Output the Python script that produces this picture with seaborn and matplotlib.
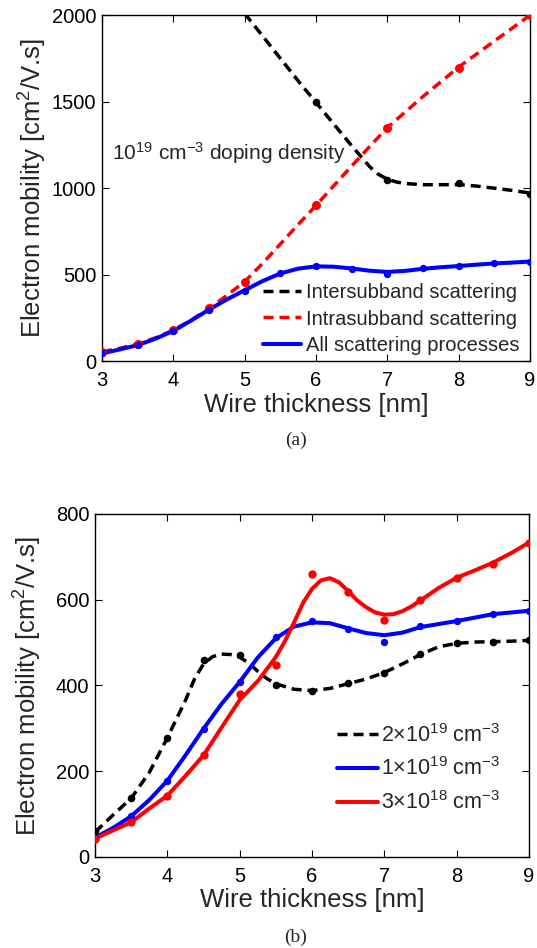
# %%
import pandas as pd
import seaborn as sns
from matplotlib import pyplot as plt

# %%
# values

# thickness (nm) of the simulated points, every 0.5 nm
thick_pts = [3.0, 3.5, 4.0, 4.5, 5.0, 5.5, 6.0, 6.5, 7.0, 7.5, 8.0, 8.5, 9.0]
# thickness grid on which the fitted curves were read, every 0.25 nm
thick_fit = [3.0, 3.25, 3.5, 3.75, 4.0, 4.25, 4.5, 4.75, 5.0, 5.25, 5.5, 5.75,
             6.0, 6.25, 6.5, 6.75, 7.0, 7.25, 7.5, 7.75, 8.0, 8.25, 8.5, 8.75, 9.0]

# (a) 1e19 cm-3 doping, scattering mechanisms
inter_pts_x = [6.0, 7.0, 8.0, 9.0]
inter_pts = [1500, 1050, 1030, 968]
inter_fit_x = [5.0, 5.25, 5.5, 5.75, 6.0, 6.25, 6.5, 6.75, 6.875, 7.0, 7.125,
               7.25, 7.5, 7.75, 8.0, 8.25, 8.5, 8.75, 9.0]
inter_fit = [2010, 1880, 1750, 1620, 1495, 1370, 1245, 1125, 1080, 1052, 1036,
             1027, 1020, 1020, 1021, 1012, 1000, 987, 972]

intra_pts_x = [3.0, 3.5, 4.0, 4.5, 5.0, 6.0, 7.0, 8.0, 9.0]
intra_pts = [55, 100, 180, 305, 460, 900, 1347, 1697, 2000]
intra_fit = [55, 75, 100, 135, 180, 237, 305, 380, 460, 565, 677, 790,
             900, 1015, 1128, 1240, 1350, 1440, 1530, 1615, 1700, 1775, 1850, 1925, 2000]

all_pts = [45, 93, 175, 298, 408, 510, 549, 533, 502, 537, 549, 566, 576]
all_fit = [45, 68, 93, 130, 175, 235, 298, 357, 410, 463, 507, 535,
           548, 546, 536, 523, 516, 522, 534, 543, 550, 558, 565, 570, 576]

# (b) total mobility for three doping densities
d2e19_pts = [60, 137, 278, 459, 470, 401, 387, 406, 428, 474, 499, 502, 505]
d2e19_fit_x = [3.0, 3.25, 3.5, 3.75, 4.0, 4.25, 4.375, 4.5, 4.625, 4.75, 4.875,
               5.0, 5.125, 5.25, 5.375, 5.5, 5.75, 6.0, 6.25, 6.5, 6.75, 7.0,
               7.25, 7.5, 7.75, 8.0, 8.25, 8.5, 8.75, 9.0]
d2e19_fit = [58, 98, 137, 197, 278, 365, 415, 450, 467, 473, 472,
             466, 452, 433, 416, 404, 391, 388, 393, 404, 415, 430,
             450, 472, 490, 498, 501, 502, 503, 505]

d1e19_pts = [45, 95, 178, 299, 408, 513, 551, 532, 501, 538, 550, 566, 574]
d1e19_fit = [45, 68, 95, 133, 178, 237, 299, 357, 408, 465, 510, 537,
             547, 545, 533, 522, 517, 523, 536, 543, 550, 558, 566, 570, 574]

d3e18_pts = [43, 81, 143, 237, 379, 447, 660, 617, 552, 598, 651, 684, 733]
d3e18_fit_x = [3.0, 3.25, 3.5, 3.75, 4.0, 4.25, 4.5, 4.75, 5.0, 5.25, 5.5,
               5.625, 5.75, 5.875, 6.0, 6.125, 6.25, 6.375, 6.5, 6.625, 6.75,
               6.875, 7.0, 7.125, 7.25, 7.375, 7.5, 7.75, 8.0, 8.25, 8.5, 8.75, 9.0]
d3e18_fit = [43, 62, 81, 113, 143, 189, 237, 302, 366, 410, 466,
             503, 546, 592, 625, 645, 650, 640, 620, 598, 582,
             570, 565, 566, 573, 584, 598, 627, 651, 668, 686, 708, 733]

# %%
sns.set_style("ticks")
plt.rcParams["font.family"] = ["Liberation Sans", "DejaVu Sans"]
plt.rcParams["mathtext.fontset"] = "custom"
plt.rcParams["mathtext.rm"] = "Liberation Sans"
plt.rcParams["mathtext.it"] = "Liberation Sans:italic"
plt.rcParams["mathtext.default"] = "regular"

fig = plt.figure(figsize=(5.37, 9.48), dpi=100)
ax1 = fig.add_axes([0.190, 0.619, 0.797, 0.365])
ax2 = fig.add_axes([0.177, 0.096, 0.808, 0.362])

DASH = (0, (2.9, 1.7))


def draw(ax, fx, fy, px, py, color, label, dashed=False, lw=2.9, s=28):
    sns.lineplot(x=fx, y=fy, ax=ax, color=color, lw=lw, label=label,
                 linestyle=DASH if dashed else "-")
    sns.scatterplot(x=px, y=py, ax=ax, color=color, s=s, linewidth=0,
                    legend=False, zorder=3)


def style(ax, ymax, yticks, ylab_x):
    ax.set_xlim(3, 9)
    ax.set_ylim(0, ymax)
    ax.set_xticks(range(3, 10))
    ax.set_yticks(yticks)
    ax.tick_params(direction="in", top=True, right=True, length=5, width=0.8,
                   labelsize=14.5, colors="black")
    ax.tick_params(axis="x", pad=7)
    ax.tick_params(axis="y", pad=4)
    for sp in ax.spines.values():
        sp.set_visible(True)
        sp.set_color("black")
        sp.set_linewidth(1.0)
    ax.set_xlabel("Wire thickness [nm]", fontsize=18.5, labelpad=2)
    ax.set_ylabel("Electron mobility [cm$^2$/V.s]", fontsize=18.5)
    ax.yaxis.set_label_coords(ylab_x, 0.5)


# %%
# panel (a)
draw(ax1, inter_fit_x, inter_fit, inter_pts_x, inter_pts, "black",
     "Intersubband scattering", dashed=True, lw=2.5, s=30)
draw(ax1, thick_fit, intra_fit, intra_pts_x, intra_pts, "#ff0000",
     "Intrasubband scattering", dashed=True, lw=2.5, s=42)
draw(ax1, thick_fit, all_fit, thick_pts, all_pts, "#0000ff",
     "All scattering processes")
style(ax1, 2000, [0, 500, 1000, 1500, 2000], -0.123)
ax1.text(3.136, 1164, "10$^{19}$ cm$^{-3}$ doping density", fontsize=15,
         va="baseline", ha="left")
ax1.legend(loc="lower right", bbox_to_anchor=(0.975, 0.018), frameon=False,
           fontsize=14.5, handlelength=1.9, handletextpad=0.22,
           labelspacing=0.37, borderpad=0, borderaxespad=0)

# panel (b)
draw(ax2, d2e19_fit_x, d2e19_fit, thick_pts, d2e19_pts, "black",
     "2$\\times$10$^{19}$ cm$^{-3}$", dashed=True, lw=2.5, s=30)
draw(ax2, thick_fit, d1e19_fit, thick_pts, d1e19_pts, "#0000ff",
     "1$\\times$10$^{19}$ cm$^{-3}$")
draw(ax2, d3e18_fit_x, d3e18_fit, thick_pts, d3e18_pts, "#ff0000",
     "3$\\times$10$^{18}$ cm$^{-3}$", s=36)
style(ax2, 800, [0, 200, 400, 600, 800], -0.118)
ax2.legend(loc="lower right", bbox_to_anchor=(0.935, 0.125), frameon=False,
           fontsize=15.5, handlelength=1.9, handletextpad=0.15,
           labelspacing=0.5, borderpad=0, borderaxespad=0)

fig.text(0.551, 1 - 440 / 948, "(a)", fontsize=14, ha="center", va="center",
         family="Liberation Serif")
fig.text(0.551, 1 - 937 / 948, "(b)", fontsize=14, ha="center", va="center",
         family="Liberation Serif")

fig.savefig("out.png", dpi=100)
